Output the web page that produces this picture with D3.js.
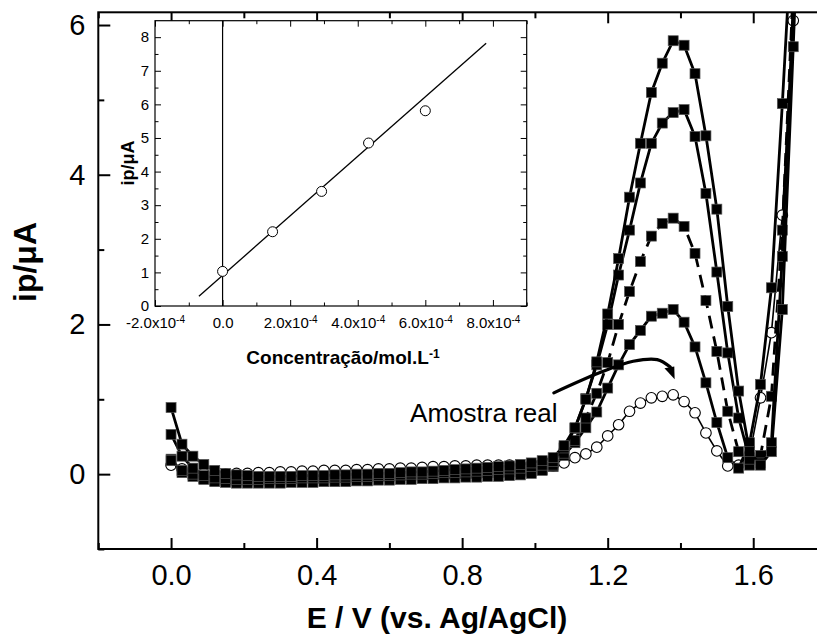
<!DOCTYPE html>
<html><head><meta charset="utf-8">
<script src="https://cdn.jsdelivr.net/npm/d3@7/dist/d3.min.js"></script>
<style>
body{margin:0;background:#fff}
svg{display:block}
text{font-family:"Liberation Sans",Arial,Helvetica,sans-serif;fill:#000}
</style></head><body>
<svg id="chart" width="817" height="636"></svg>
<script>
// Potential axis (V vs. Ag/AgCl), one sample every 30 mV
const potential = [0.00,0.03,0.06,0.09,0.12,0.15,0.18,0.21,0.24,0.27,0.30,0.33,0.36,0.39,0.42,0.45,0.48,0.51,0.54,0.57,
  0.60,0.63,0.66,0.69,0.72,0.75,0.78,0.81,0.84,0.87,0.90,0.93,0.96,0.99,1.02,1.05,1.08,1.11,1.14,1.17,
  1.20,1.23,1.26,1.29,1.32,1.35,1.38,1.41,1.44,1.47,1.50,1.53,1.56,1.59,1.62,1.65,1.68,1.71,1.74];

// Peak current (µA) for the real sample and the four standard additions
const amostraReal = [0.12,0.07,0.03,0.01,0.00,0.00,0.01,0.01,0.02,0.02,0.03,0.03,0.04,0.04,0.05,0.05,0.05,0.06,0.06,0.07,
  0.07,0.08,0.08,0.09,0.10,0.10,0.11,0.11,0.12,0.12,0.12,0.12,0.11,0.11,0.10,0.11,0.15,0.22,0.27,0.36,
  0.51,0.66,0.84,0.95,1.02,1.04,1.06,0.97,0.82,0.55,0.31,0.11,0.12,0.25,1.02,1.89,3.46,6.06,9.5];
const adicao1 = [0.20,0.02,-0.03,-0.06,-0.08,-0.08,-0.09,-0.09,-0.08,-0.08,-0.07,-0.07,-0.06,-0.06,-0.05,-0.05,-0.05,-0.04,-0.04,-0.03,
  -0.03,-0.02,-0.02,-0.01,-0.01,0.00,0.00,0.01,0.01,0.02,0.02,0.03,0.03,0.04,0.06,0.10,0.25,0.42,0.62,0.83,
  1.15,1.46,1.73,1.92,2.11,2.15,2.20,2.03,1.70,1.22,0.69,0.22,0.08,0.42,1.20,2.49,4.95,7.6,10.0];
const adicao2 = [0.18,0.05,0.00,-0.07,-0.10,-0.11,-0.12,-0.12,-0.12,-0.12,-0.12,-0.11,-0.11,-0.11,-0.10,-0.10,-0.10,-0.09,-0.09,-0.08,
  -0.08,-0.07,-0.07,-0.06,-0.06,-0.05,-0.05,-0.04,-0.04,-0.03,-0.03,-0.02,-0.01,0.01,0.05,0.12,0.28,0.45,0.75,1.08,
  1.49,2.00,2.44,2.84,3.18,3.35,3.42,3.31,2.95,2.32,1.64,0.84,0.30,0.12,0.25,1.04,3.26,6.5,9.5];
const adicao3 = [0.53,0.24,0.08,-0.02,-0.05,-0.06,-0.07,-0.07,-0.07,-0.06,-0.06,-0.06,-0.05,-0.05,-0.05,-0.04,-0.04,-0.03,-0.03,-0.02,
  -0.02,-0.01,0.00,0.00,0.01,0.02,0.02,0.03,0.04,0.05,0.06,0.07,0.08,0.10,0.12,0.17,0.35,0.61,1.01,1.46,
  2.00,2.66,3.26,3.89,4.42,4.69,4.83,4.87,4.51,3.75,2.70,1.62,0.75,0.20,0.15,0.42,2.91,6.3,9.5];
const adicao4 = [0.89,0.40,0.24,0.13,0.05,0.01,-0.01,-0.02,-0.03,-0.03,-0.03,-0.03,-0.02,-0.02,-0.02,-0.01,-0.01,0.00,0.00,0.01,
  0.01,0.02,0.03,0.03,0.04,0.05,0.06,0.07,0.08,0.09,0.10,0.11,0.13,0.15,0.18,0.22,0.38,0.62,1.00,1.50,
  2.14,2.88,3.70,4.42,5.10,5.49,5.79,5.73,5.35,4.52,3.54,2.24,1.11,0.30,0.12,0.30,2.20,5.71,9.5];

const xTicks = [0, 0.4, 0.8, 1.2, 1.6];
const xMinorTicks = [-0.2, 0.2, 0.6, 1.0, 1.4, 1.8];
const yTicks = [0, 2, 4, 6];
const yMinorTicks = [-1, 1, 3, 5];

// Calibration (standard addition) data for the inset
const concentracao = [0, 1.48e-4, 2.93e-4, 4.32e-4, 6.0e-4];
const ipCalib = [1.03, 2.21, 3.41, 4.85, 5.81];
const fitIntercept = 0.91;
const fitSlope = 8860;
const fitSpan = [-0.7e-4, 7.8e-4];
const insetXTicks = [-2e-4, 0, 2e-4, 4e-4, 6e-4, 8e-4];
const insetXMinor = [-1e-4, 1e-4, 3e-4, 5e-4, 7e-4, 9e-4];
const insetYTicks = [0, 1, 2, 3, 4, 5, 6, 7, 8];
const insetYMinor = [0.5, 1.5, 2.5, 3.5, 4.5, 5.5, 6.5, 7.5];

const svg = d3.select("#chart");
svg.append("rect").attr("width", 817).attr("height", 636).attr("fill", "#fff");

const M = {left: 98.3, right: 826, top: 12.3, bottom: 549};
const x = d3.scaleLinear().domain([-0.2, 1.8]).range([M.left, M.right]);
const y = d3.scaleLinear().domain([-1, 6.17]).range([M.bottom, M.top]);

svg.append("clipPath").attr("id", "plotClip").append("rect")
  .attr("x", M.left).attr("y", M.top)
  .attr("width", M.right - M.left).attr("height", M.bottom - M.top);

const series = [
  {values: amostraReal, symbol: "circle", dash: null, width: 1.6},
  {values: adicao1, symbol: "square", dash: null, width: 2.8},
  {values: adicao2, symbol: "square", dash: "13,8", width: 2.8},
  {values: adicao3, symbol: "square", dash: null, width: 2.8},
  {values: adicao4, symbol: "square", dash: null, width: 2.8}
];

const plot = svg.append("g").attr("clip-path", "url(#plotClip)");
const line = d3.line().x((d, i) => x(potential[i])).y(d => y(d));

series.forEach(s => {
  const g = plot.append("g");
  g.append("path").datum(s.values)
    .attr("d", line).attr("fill", "none").attr("stroke", "#000")
    .attr("stroke-width", s.width).attr("stroke-linejoin", "round")
    .attr("stroke-dasharray", s.dash);
  const pts = s.values.map((v, i) => ({e: potential[i], v}));
  if (s.symbol === "circle") {
    g.selectAll("circle").data(pts).join("circle")
      .attr("cx", d => x(d.e)).attr("cy", d => y(d.v)).attr("r", 5.3)
      .attr("fill", "#fff").attr("stroke", "#000").attr("stroke-width", 1.1);
  } else {
    g.selectAll("rect").data(pts).join("rect")
      .attr("x", d => x(d.e) - 5).attr("y", d => y(d.v) - 5)
      .attr("width", 10).attr("height", 10)
      .attr("fill", "#000").attr("stroke", "#555").attr("stroke-width", 0.7);
  }
});

// Axes: ticks point into the plot area
function styleAxis(g) {
  g.select(".domain").remove();
  g.selectAll(".tick line").attr("stroke", "#000").attr("stroke-width", 2);
  g.attr("font-size", 29);
  g.selectAll(".tick text").attr("fill", "#000");
}
svg.append("g").attr("transform", `translate(0,${M.bottom})`)
  .call(d3.axisBottom(x).tickValues(xTicks).tickFormat(d3.format(".1f")).tickSize(-11).tickPadding(15))
  .call(styleAxis);
svg.append("g").attr("transform", `translate(0,${M.bottom})`)
  .call(d3.axisBottom(x).tickValues(xMinorTicks).tickFormat("").tickSize(-6))
  .call(styleAxis);
svg.append("g").attr("transform", `translate(0,${M.top})`)
  .call(d3.axisTop(x).tickValues(xTicks).tickFormat("").tickSize(-11))
  .call(styleAxis);
svg.append("g").attr("transform", `translate(0,${M.top})`)
  .call(d3.axisTop(x).tickValues(xMinorTicks).tickFormat("").tickSize(-6))
  .call(styleAxis);
svg.append("g").attr("transform", `translate(${M.left},0)`)
  .call(d3.axisLeft(y).tickValues(yTicks).tickFormat(d3.format("d")).tickSize(-12).tickPadding(13))
  .call(styleAxis);
svg.append("g").attr("transform", `translate(${M.left},0)`)
  .call(d3.axisLeft(y).tickValues(yMinorTicks).tickFormat("").tickSize(-6))
  .call(styleAxis);

svg.append("rect").attr("x", M.left).attr("y", M.top)
  .attr("width", M.right - M.left).attr("height", M.bottom - M.top)
  .attr("fill", "none").attr("stroke", "#000").attr("stroke-width", 2);

svg.append("text").attr("x", 437).attr("y", 628).attr("text-anchor", "middle")
  .attr("font-size", 30).attr("font-weight", "bold").text("E / V (vs. Ag/AgCl)");
svg.append("text").attr("transform", "translate(36,262) rotate(-90)").attr("text-anchor", "middle")
  .attr("font-size", 32).attr("font-weight", "bold").text("ip/μA");

// Annotation for the real sample curve
svg.append("text").attr("x", x(0.657)).attr("y", y(0.69))
  .attr("font-size", 26).text("Amostra real");
const arrowPath = [[1.052, 1.086], [1.179, 1.357], [1.270, 1.508], [1.336, 1.530], [1.372, 1.43]];
svg.append("path").datum(arrowPath)
  .attr("d", d3.line().x(d => x(d[0])).y(d => y(d[1])).curve(d3.curveCatmullRom))
  .attr("fill", "none").attr("stroke", "#000").attr("stroke-width", 3.2).attr("stroke-linecap", "round");
const arrowHead = [[1.356, 1.416], [1.383, 1.438], [1.384, 1.268]];
svg.append("path").datum(arrowHead)
  .attr("d", d3.line().x(d => x(d[0])).y(d => y(d[1])).curve(d3.curveLinearClosed))
  .attr("fill", "#000");

// Inset: calibration curve
const I = {left: 155, right: 526.7, top: 20.7, bottom: 306};
const ix = d3.scaleLinear().domain([-2e-4, 9e-4]).range([I.left, I.right]);
const iy = d3.scaleLinear().domain([0, 8.49]).range([I.bottom, I.top]);
const ins = svg.append("g");
ins.append("rect").attr("x", I.left).attr("y", I.top)
  .attr("width", I.right - I.left).attr("height", I.bottom - I.top).attr("fill", "#fff");

function styleInset(g) {
  g.select(".domain").remove();
  g.selectAll(".tick line").attr("stroke", "#000").attr("stroke-width", 1);
  g.attr("font-size", 15);
  g.selectAll(".tick text").attr("fill", "#000");
}
const gix = ins.append("g").attr("transform", `translate(0,${I.bottom})`)
  .call(d3.axisBottom(ix).tickValues(insetXTicks).tickFormat("").tickSize(-6).tickPadding(11))
  .call(styleInset);
gix.selectAll(".tick text").each(function (d) {
  const t = d3.select(this);
  if (Math.abs(d) < 1e-12) { t.text("0.0"); return; }
  t.text(null);
  t.append("tspan").text((d / 1e-4).toFixed(1) + "x10");
  t.append("tspan").attr("dy", "-0.45em").attr("font-size", 10).text("-4");
});
ins.append("g").attr("transform", `translate(0,${I.bottom})`)
  .call(d3.axisBottom(ix).tickValues(insetXMinor).tickFormat("").tickSize(-3.5)).call(styleInset);
ins.append("g").attr("transform", `translate(0,${I.top})`)
  .call(d3.axisTop(ix).tickValues(insetXTicks).tickFormat("").tickSize(-6)).call(styleInset);
ins.append("g").attr("transform", `translate(0,${I.top})`)
  .call(d3.axisTop(ix).tickValues(insetXMinor).tickFormat("").tickSize(-3.5)).call(styleInset);
ins.append("g").attr("transform", `translate(${I.left},0)`)
  .call(d3.axisLeft(iy).tickValues(insetYTicks).tickFormat(d3.format("d")).tickSize(-6).tickPadding(6))
  .call(styleInset);
ins.append("g").attr("transform", `translate(${I.left},0)`)
  .call(d3.axisLeft(iy).tickValues(insetYMinor).tickFormat("").tickSize(-3.5)).call(styleInset);
ins.append("g").attr("transform", `translate(${I.right},0)`)
  .call(d3.axisRight(iy).tickValues(insetYTicks).tickFormat("").tickSize(-6)).call(styleInset);
ins.append("g").attr("transform", `translate(${I.right},0)`)
  .call(d3.axisRight(iy).tickValues(insetYMinor).tickFormat("").tickSize(-3.5)).call(styleInset);

ins.append("line").attr("x1", ix(0)).attr("x2", ix(0)).attr("y1", I.top).attr("y2", I.bottom)
  .attr("stroke", "#000").attr("stroke-width", 1.2);
ins.append("line")
  .attr("x1", ix(fitSpan[0])).attr("y1", iy(fitIntercept + fitSlope * fitSpan[0]))
  .attr("x2", ix(fitSpan[1])).attr("y2", iy(fitIntercept + fitSlope * fitSpan[1]))
  .attr("stroke", "#000").attr("stroke-width", 1.3);
ins.selectAll("circle.cal").data(concentracao).join("circle").attr("class", "cal")
  .attr("cx", d => ix(d)).attr("cy", (d, i) => iy(ipCalib[i])).attr("r", 5)
  .attr("fill", "#fff").attr("stroke", "#000").attr("stroke-width", 1);
ins.append("rect").attr("x", I.left).attr("y", I.top)
  .attr("width", I.right - I.left).attr("height", I.bottom - I.top)
  .attr("fill", "none").attr("stroke", "#000").attr("stroke-width", 1.2);

const xt = ins.append("text").attr("x", 343).attr("y", 364).attr("text-anchor", "middle")
  .attr("font-size", 19).attr("font-weight", "bold");
xt.append("tspan").text("Concentração/mol.L");
xt.append("tspan").attr("dy", "-0.5em").attr("font-size", 12).text("-1");
ins.append("text").attr("transform", "translate(134,163) rotate(-90)").attr("text-anchor", "middle")
  .attr("font-size", 18).attr("font-weight", "bold").text("ip/μA");
</script>
</body></html>
